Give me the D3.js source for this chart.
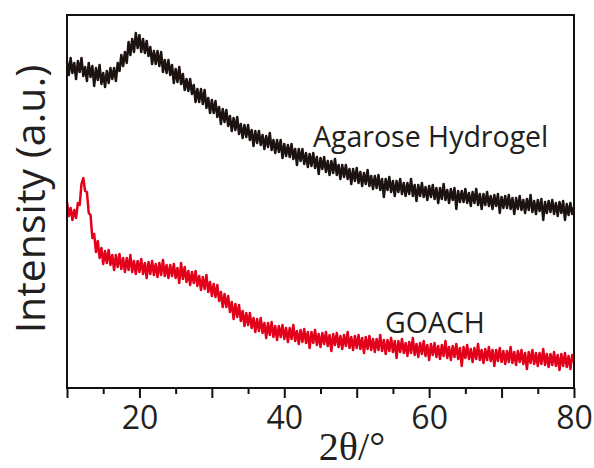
<!DOCTYPE html>
<html>
<head>
<meta charset="utf-8">
<script src="https://cdn.jsdelivr.net/npm/d3@7/dist/d3.min.js"></script>
<style>
  body { margin: 0; background: #fff; }
  svg { display: block; }
</style>
</head>
<body>
<svg id="chart" width="594" height="468"></svg>
<script>
// XRD patterns, 2θ from 10° to 80° sampled every 0.25°
const thetaStart = 10;
const thetaStep = 0.25;

// Agarose hydrogel intensity (a.u.), one row per 5°
const agaroseHydrogel = [
  327,313,330,315, 325,309,327,316, 330,312,321,307, 325,311,322,302, 320,308,323,304,
  315,301,317,305, 320,309,320,307, 325,317,333,322, 336,325,346,333, 349,336,355,340,
  353,336,349,335, 347,332,341,324, 337,324,337,322, 336,316,328,315, 328,313,323,305,
  319,306,321,304, 314,298,309,297, 309,294,303,286, 299,286,299,284, 298,280,290,275,
  288,275,287,271, 281,264,279,266, 278,262,272,257, 270,258,271,254, 264,250,263,251,
  263,248,258,242, 257,245,257,243, 253,239,252,241, 255,238,248,235, 248,236,248,230,
  244,232,243,231, 244,229,239,223, 239,227,239,224, 235,221,234,222, 235,220,231,214,
  230,219,231,216, 227,213,227,215, 229,213,223,209, 223,211,223,209, 219,204,219,207,
  220,205,216,202, 215,204,218,202, 212,199,212,200, 213,198,209,191, 209,198,211,196,
  207,192,207,196, 209,194,205,192, 205,194,209,192, 203,187,203,192, 205,191,201,188,
  202,191,203,189, 200,185,200,189, 204,188,198,185, 199,188,200,179, 197,186,197,186,
  199,185,195,182, 196,185,199,183, 194,179,194,183, 196,182,192,179, 193,182,194,175,
  191,180,192,180, 193,179,190,174, 190,179,192,178, 188,175,189,178, 193,176,187,174,
  188,177,189,168, 186,175,187,176, 188,174,185,172, 186,175,187,168, 184,173,185,174,
  181
];

// GOACH intensity (a.u.), one row per 5°
const goach = [
  186,172,180,168, 178,170,185,183, 204,210,197,196, 175,173,150,154, 136,147,130,140,
  124,137,125,138, 123,133,118,133, 121,134,119,130, 116,130,118,133, 116,127,114,127,
  116,129,114,125, 110,126,114,127, 113,124,111,125, 113,128,112,123, 110,123,112,124,
  110,120,105,125, 109,121,106,117, 103,116,105,117, 102,112,98,111, 99,113,96,106,
  92,104,91,103, 87,96,81,94, 81,92,76,86, 69,84,71,83, 67,77,62,75,
  63,75,60,70, 56,69,57,70, 55,65,50,65, 53,66,51,62, 48,62,51,63,
  49,60,46,60, 49,63,47,57, 44,58,46,59, 45,56,40,56, 45,58,43,54,
  41,55,44,56, 42,53,37,54, 43,55,41,52, 39,53,42,56, 40,51,38,52,
  40,53,39,50, 35,51,39,52, 38,49,36,49, 38,53,37,48, 34,48,37,50,
  36,47,30,47, 36,49,35,45, 32,46,35,50, 33,44,31,45, 34,47,32,43,
  28,44,33,45, 31,42,29,43, 32,47,30,41, 28,42,31,44, 29,40,22,41,
  30,43,29,39, 26,40,29,44, 28,38,25,39, 28,41,27,38, 22,38,27,40,
  26,37,24,37, 26,41,25,36, 23,37,26,38, 24,35,19,36, 25,38,24,35,
  22,35,24,39, 23,34,21,34, 23,36,22,33, 18,34,22,35, 21,32,19,33,
  26
];

const seriesNames = ["Agarose Hydrogel", "GOACH"];
const seriesColors = ["#1c1311", "#e3001b"];
const majorTicks = [10, 20, 30, 40, 50, 60, 70, 80];
const minorTicks = [15, 25, 35, 45, 55, 65, 75];
const labelledTicks = [20, 40, 60, 80];
const xTitle = "2θ/°";
const yTitle = "Intensity (a.u.)";

const svg = d3.select("#chart");
const plot = { left: 67, right: 574, top: 15, bottom: 388 };

const x = d3.scaleLinear().domain([10, 80]).range([plot.left, plot.right]);
const y = d3.scaleLinear().domain([0, 373]).range([plot.bottom, plot.top]);

const toPoints = arr => arr.map((v, i) => [thetaStart + i * thetaStep, v]);
const line = d3.line().x(d => x(d[0])).y(d => y(d[1]));

const traces = svg.append("g");
[agaroseHydrogel, goach].forEach((arr, k) => {
  traces.append("path")
    .datum(toPoints(arr))
    .attr("d", line)
    .attr("fill", "none")
    .attr("stroke", seriesColors[k])
    .attr("stroke-width", 2.5)
    .attr("stroke-linejoin", "round");
});

// frame
svg.append("rect")
  .attr("x", plot.left).attr("y", plot.top)
  .attr("width", plot.right - plot.left).attr("height", plot.bottom - plot.top)
  .attr("fill", "none").attr("stroke", "#111").attr("stroke-width", 2);

// bottom axis: major and minor ticks
const axisMinor = d3.axisBottom(x).tickValues(minorTicks).tickSize(6).tickFormat("");
const axisMajor = d3.axisBottom(x).tickValues(majorTicks).tickSize(10)
  .tickPadding(8)
  .tickFormat(d => labelledTicks.includes(d) ? d : "");

[axisMinor, axisMajor].forEach(ax => {
  const g = svg.append("g").attr("transform", `translate(0,${plot.bottom})`).call(ax);
  g.select(".domain").remove();
  g.selectAll(".tick line").attr("stroke", "#111").attr("stroke-width", 2);
  g.selectAll(".tick text")
    .attr("fill", "#231f20")
    .style("font-family", "'Open Sans', sans-serif")
    .style("font-size", "32px");
});

// axis titles
svg.append("text")
  .attr("x", 352).attr("y", 460)
  .attr("text-anchor", "middle")
  .style("font-family", "'Liberation Serif', 'Times New Roman', serif")
  .style("font-size", "40px")
  .attr("fill", "#231f20")
  .text(xTitle);

svg.append("text")
  .attr("transform", "translate(45,199) rotate(-90)")
  .attr("text-anchor", "middle")
  .style("font-family", "'Open Sans', sans-serif")
  .style("font-size", "41px")
  .attr("fill", "#231f20")
  .text(yTitle);

// series labels
const labelPos = [[313, 147], [385, 333]];
seriesNames.forEach((name, k) => {
  svg.append("text")
    .attr("x", labelPos[k][0]).attr("y", labelPos[k][1])
    .style("font-family", "'Open Sans', sans-serif")
    .style("font-size", "28.5px")
    .attr("fill", "#231f20")
    .text(name);
});
</script>
</body>
</html>
